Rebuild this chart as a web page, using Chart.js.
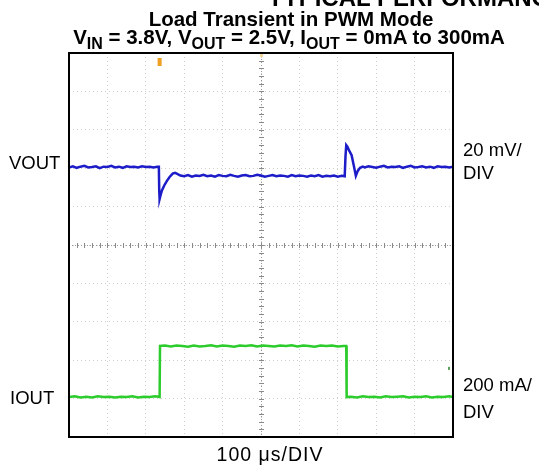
<!DOCTYPE html>
<html>
<head>
<meta charset="utf-8">
<script src="https://cdn.jsdelivr.net/npm/chart.js@4/dist/chart.umd.min.js"></script>
<style>
html,body{margin:0;padding:0;background:#fff;overflow:hidden;}
#wrap{position:relative;width:539px;height:465px;font-family:"Liberation Sans",Arial,sans-serif;color:#000;}
#wrap canvas{position:absolute;left:0;top:0;}
.t{position:absolute;white-space:nowrap;line-height:1;}
.b{font-weight:bold;}
sub{font-size:78%;vertical-align:-0.3em;line-height:0;}
</style>
</head>
<body>
<div id="wrap">
<canvas id="c" width="539" height="465"></canvas>
<div class="t b" style="left:268px;top:-14px;font-size:24px;">TYPICAL PERFORMANCE CHARACTERISTICS</div>
<div class="t b" style="left:0;width:582px;text-align:center;top:9px;font-size:20.5px;">Load Transient in PWM Mode</div>
<div class="t b" style="left:0;width:578px;text-align:center;top:27px;font-size:20.5px;">V<sub>IN</sub> = 3.8V, V<sub>OUT</sub> = 2.5V, I<sub>OUT</sub> = 0mA to 300mA</div>
<div class="t" style="left:9px;top:154px;font-size:18.5px;">VOUT</div>
<div class="t" style="left:463px;top:141px;font-size:18.5px;">20 mV/</div>
<div class="t" style="left:463px;top:164px;font-size:18.5px;">DIV</div>
<div class="t" style="left:10px;top:389px;font-size:18.5px;">IOUT</div>
<div class="t" style="left:463px;top:376px;font-size:18.5px;">200 mA/</div>
<div class="t" style="left:463px;top:403px;font-size:18.5px;">DIV</div>
<div class="t" style="left:0;width:540px;text-align:center;top:445px;font-size:19.5px;letter-spacing:1px;">100 μs/DIV</div>
</div>
<script>
// Time axis (µs), 100 µs per division
const TIME_MIN = 0, TIME_MAX = 1000, TIME_PER_DIV = 100;
// Vertical axis in scope divisions
const DIV_MIN = -5, DIV_MAX = 5;

// VOUT trace (20 mV/DIV), time in µs, level in divisions
const voutTime = [
  0,10,20,30,40,50,60,70,80,90,100,110,120,130,140,150,160,170,180,190,200,210,220,230,
  234,235,236,238,242,248,255,262,270,276,282,290,
  300,310,320,330,340,350,360,370,380,390,400,410,420,430,440,450,460,470,480,490,500,
  510,520,530,540,550,560,570,580,590,600,610,620,630,640,650,660,670,680,690,700,710,
  718,720,722,725,730,736,742,747,752,758,765,
  770,780,790,800,810,820,830,840,850,860,870,880,890,900,910,920,930,940,950,960,970,980,990,1000
];
const voutLevel = [
  2.02,2.05,2.01,2.04,2.06,2.02,2.03,2.05,2.00,2.04,2.03,2.06,2.02,2.04,2.01,2.05,2.03,2.04,2.02,2.05,2.03,2.04,2.02,2.04,
  2.04,1.40,1.20,1.28,1.42,1.55,1.67,1.77,1.86,1.88,1.85,1.81,
  1.79,1.82,1.78,1.81,1.80,1.83,1.79,1.81,1.78,1.82,1.80,1.79,1.83,1.80,1.78,1.81,1.82,1.79,1.80,1.83,1.81,
  1.78,1.80,1.82,1.79,1.81,1.80,1.78,1.82,1.79,1.81,1.80,1.78,1.81,1.79,1.82,1.78,1.80,1.79,1.81,1.78,1.80,
  1.79,2.30,2.60,2.56,2.45,2.34,2.05,1.80,1.93,2.01,2.04,
  2.02,2.05,2.03,2.01,2.04,2.06,2.02,2.04,2.03,2.05,2.01,2.04,2.06,2.02,2.03,2.05,2.02,2.04,2.01,2.05,2.03,2.04,2.02,2.04
];

// IOUT trace (200 mA/DIV), time in µs, level in divisions
const ioutTime = [
  0,15,30,45,60,75,90,105,120,135,150,165,180,195,210,225,236,
  237,250,265,280,295,310,325,340,355,370,385,400,415,430,445,460,475,490,505,520,535,550,565,580,595,610,625,640,655,670,685,700,715,722,
  723,735,750,765,780,795,810,825,840,855,870,885,900,915,930,945,960,975,990,1000
];
const ioutLevel = [
  -3.96,-3.94,-3.97,-3.95,-3.97,-3.94,-3.96,-3.95,-3.97,-3.95,-3.96,-3.94,-3.97,-3.95,-3.96,-3.94,-3.96,
  -2.63,-2.62,-2.64,-2.62,-2.63,-2.65,-2.62,-2.64,-2.63,-2.61,-2.64,-2.62,-2.63,-2.65,-2.62,-2.63,-2.61,-2.64,-2.62,-2.63,-2.64,-2.62,-2.63,-2.61,-2.64,-2.62,-2.63,-2.65,-2.62,-2.63,-2.62,-2.64,-2.63,-2.63,
  -3.96,-3.95,-3.97,-3.94,-3.96,-3.95,-3.97,-3.94,-3.96,-3.95,-3.94,-3.97,-3.95,-3.96,-3.94,-3.97,-3.95,-3.96,-3.94,-3.96
];

// trigger position (µs) and IOUT channel marker level (div)
const triggerTime = 236;
const ioutMarkerLevel = -3.2;

const toXY = (xs, ys) => xs.map((x, i) => ({x: x, y: ys[i]}));

const scopePlugin = {
  id: 'scope',
  beforeDatasetsDraw(chart) {
    const {ctx, chartArea: a, scales: {x, y}} = chart;
    const cx = x.getPixelForValue((TIME_MIN + TIME_MAX) / 2);
    const cy = y.getPixelForValue(0);
    ctx.save();
    ctx.strokeStyle = '#9a9a9a';
    ctx.lineWidth = 1;
    ctx.setLineDash([1, 2]);
    ctx.beginPath();
    ctx.moveTo(cx + 0.5, a.top); ctx.lineTo(cx + 0.5, a.bottom);
    ctx.moveTo(a.left, cy + 0.5); ctx.lineTo(a.right, cy + 0.5);
    ctx.stroke();
    ctx.setLineDash([]);
    ctx.strokeStyle = '#8a8a8a';
    ctx.beginPath();
    for (let v = DIV_MIN; v <= DIV_MAX + 1e-9; v += 0.2) {
      const py = Math.round(y.getPixelForValue(v)) + 0.5;
      ctx.moveTo(cx - 2, py); ctx.lineTo(cx + 3, py);
    }
    for (let t = TIME_MIN; t <= TIME_MAX + 1e-9; t += TIME_PER_DIV / 5) {
      const px = Math.round(x.getPixelForValue(t)) + 0.5;
      ctx.moveTo(px, cy - 2); ctx.lineTo(px, cy + 3);
    }
    ctx.stroke();
    ctx.restore();
  },
  afterDraw(chart) {
    const {ctx, chartArea: a, scales: {x, y}} = chart;
    ctx.save();
    // trigger marker
    const tx = x.getPixelForValue(triggerTime);
    ctx.fillStyle = '#f0a020';
    ctx.fillRect(tx - 2, a.top + 5, 4, 8);
    ctx.fillStyle = '#f7d9a0';
    ctx.fillRect(x.getPixelForValue(500) - 1, a.top + 1, 3, 3);
    // IOUT channel marker
    ctx.fillStyle = '#5aa05a';
    ctx.fillRect(a.right - 5, y.getPixelForValue(ioutMarkerLevel) - 1, 2, 3);
    // frame
    ctx.strokeStyle = '#000';
    ctx.lineWidth = 2;
    ctx.strokeRect(a.left, a.top, a.right - a.left, a.bottom - a.top);
    ctx.restore();
  }
};

new Chart(document.getElementById('c'), {
  type: 'line',
  data: {
    datasets: [
      {label: 'VOUT', data: toXY(voutTime, voutLevel), borderColor: '#1c1cc8', borderWidth: 2.5, pointRadius: 0, tension: 0, fill: false},
      {label: 'IOUT', data: toXY(ioutTime, ioutLevel), borderColor: '#2ccc2c', borderWidth: 2.5, pointRadius: 0, tension: 0, fill: false}
    ]
  },
  options: {
    responsive: false,
    animation: false,
    devicePixelRatio: 1,
    layout: {padding: {left: 69, right: 86, top: 53, bottom: 28}},
    plugins: {legend: {display: false}, tooltip: {enabled: false}, title: {display: false}},
    scales: {
      x: {type: 'linear', min: TIME_MIN, max: TIME_MAX,
          ticks: {display: false, stepSize: TIME_PER_DIV},
          grid: {color: '#cfcfcf', drawTicks: false, lineWidth: 1},
          border: {display: false, dash: [1, 3]}},
      y: {type: 'linear', min: DIV_MIN, max: DIV_MAX,
          ticks: {display: false, stepSize: 1},
          grid: {color: '#cfcfcf', drawTicks: false, lineWidth: 1},
          border: {display: false, dash: [1, 3]}}
    }
  },
  plugins: [scopePlugin]
});
</script>
</body>
</html>
